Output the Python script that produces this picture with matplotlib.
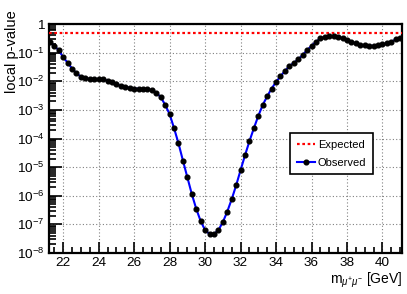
import numpy as np
import matplotlib
matplotlib.use("Agg")
import matplotlib.pyplot as plt
from matplotlib.ticker import FixedLocator, FuncFormatter, MultipleLocator

plt.rcParams['font.family'] = ['Liberation Sans', 'DejaVu Sans']
plt.rcParams['mathtext.fontset'] = 'custom'
plt.rcParams['mathtext.rm'] = 'Liberation Sans'
plt.rcParams['mathtext.it'] = 'Liberation Sans:italic'

# dimuon mass scan points [GeV]
mass = np.arange(21.25, 41.01, 0.25)
observed = [
    0.24, 0.17, 0.123, 0.069, 0.045, 0.028, 0.019, 0.0145,
    0.0126, 0.012, 0.0117, 0.0117, 0.0117, 0.0105, 0.0091, 0.0079,
    0.0069, 0.0065, 0.0058, 0.0056, 0.0055, 0.0054, 0.0054, 0.0049,
    0.0040, 0.0028, 0.0015, 7.1e-4, 2.3e-4, 6.8e-5, 1.7e-5, 4.4e-6,
    1.15e-6, 3.5e-7, 1.3e-7, 6.3e-8, 4.6e-8, 4.6e-8, 6.3e-8, 1.2e-7,
    2.8e-7, 7.6e-7, 2.3e-6, 7.9e-6, 2.6e-5, 8.1e-5, 2.3e-4, 6.2e-4,
    1.5e-3, 3.0e-3, 5.6e-3, 9.5e-3, 0.015, 0.023, 0.034, 0.044,
    0.059, 0.083, 0.123, 0.174, 0.24, 0.32, 0.36, 0.38,
    0.38, 0.36, 0.32, 0.275, 0.24, 0.21, 0.19, 0.18,
    0.174, 0.174, 0.18, 0.195, 0.21, 0.24, 0.295, 0.34,
]
expected = 0.5
xlim = (21.2, 41.1)
ylim = (1e-8, 1)

fig = plt.figure(figsize=(4.07, 2.94), dpi=100)
ax = fig.add_axes([0.1204, 0.1395, 0.8673, 0.7785])

ax.plot(xlim, [expected, expected], color='red', ls=(0, (1.2, 1.2)), lw=1.6,
        label='Expected', zorder=3)
ax.plot(mass, observed, color='blue', lw=1.5, marker='o', ms=3.4,
        mfc='black', mec='black', label='Observed', zorder=4)

ax.set_yscale('log')
ax.set_xlim(*xlim)
ax.set_ylim(*ylim)

ax.xaxis.set_major_locator(MultipleLocator(2))
ax.xaxis.set_minor_locator(MultipleLocator(0.5))
ax.yaxis.set_major_locator(FixedLocator([10.0 ** -k for k in range(0, 9)]))
minors = [m * 10.0 ** -k for k in range(1, 9) for m in range(2, 10)]
ax.yaxis.set_minor_locator(FixedLocator(minors))
ax.yaxis.set_major_formatter(FuncFormatter(
    lambda v, p: '1' if v >= 0.99 else r'$10^{%d}$' % round(np.log10(v))))
ax.yaxis.set_minor_formatter(FuncFormatter(lambda v, p: ''))

ax.tick_params(which='both', direction='in', top=False, right=False,
               labelsize=9.7, width=1.2)
ax.tick_params(axis='y', which='major', length=9, pad=3)
ax.tick_params(axis='y', which='minor', length=5)
ax.tick_params(axis='x', which='major', length=8, pad=3)
ax.tick_params(axis='x', which='minor', length=4)

for s in ax.spines.values():
    s.set_linewidth(1.6)

ax.grid(True, which='major', color='#808080', ls=(0, (1, 2)), lw=0.8)

ax.set_ylabel('local p-value', fontsize=10.5, ha='right')
ax.yaxis.set_label_coords(-0.085, 1.06)
ax.set_xlabel(r'm$_{\mu^{+}\mu^{-}}$ [GeV]', fontsize=10, loc='right',
              labelpad=1)

leg = ax.legend(loc='upper left', bbox_to_anchor=(0.683, 0.523), fontsize=8,
                fancybox=False, framealpha=1, edgecolor='black',
                handlelength=1.6, borderpad=0.6, labelspacing=0.7,
                handletextpad=0.3, borderaxespad=0)
leg.get_frame().set_linewidth(1.2)

fig.savefig('out.png', dpi=100)
